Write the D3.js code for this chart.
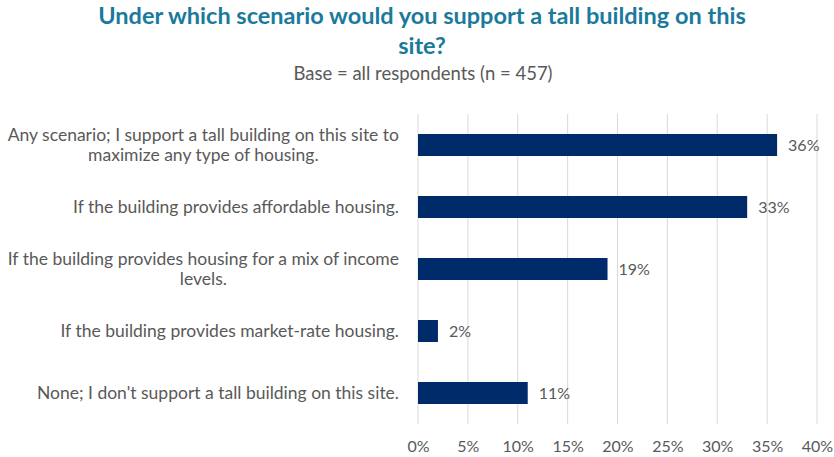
<!DOCTYPE html>
<html>
<head>
<meta charset="utf-8">
<script src="https://cdn.jsdelivr.net/npm/d3@7"></script>
<style>
  html, body { margin: 0; padding: 0; background: #fff; }
  svg { display: block; }
</style>
</head>
<body>
<svg id="chart" width="834" height="457"></svg>
<script>
// Survey answers, one bar each
const categories = [
  ["Any scenario; I support a tall building on this site to", "maximize any type of housing."],
  ["If the building provides affordable housing."],
  ["If the building provides housing for a mix of income", "levels."],
  ["If the building provides market-rate housing."],
  ["None; I don't support a tall building on this site."]
];
const shares = [36, 33, 19, 2, 11];
const tickValues = [0, 5, 10, 15, 20, 25, 30, 35, 40];

const titleLines = ["Under which scenario would you support a tall building on this", "site?"];
const subtitle = "Base = all respondents (n = 457)";

const W = 834, H = 457;
const margin = { left: 418, right: 17, top: 114, bottom: 33 };
const font = "Lato, 'Open Sans', sans-serif";

const svg = d3.select("#chart");

const x = d3.scaleLinear().domain([0, 40]).range([margin.left, W - margin.right]);
const y = d3.scaleBand()
  .domain(d3.range(categories.length))
  .range([margin.top, H - margin.bottom])
  .paddingInner(0.645)
  .paddingOuter(0.3225);

// Title and subtitle
svg.append("g").selectAll("text")
  .data(titleLines)
  .join("text")
  .attr("x", 422)
  .attr("y", (d, i) => 24 + i * 30)
  .attr("text-anchor", "middle")
  .attr("font-family", font)
  .attr("font-weight", "bold")
  .attr("font-size", 23.5)
  .attr("fill", "#1A7A9C")
  .text(d => d);

svg.append("text")
  .attr("x", 423)
  .attr("y", 80)
  .attr("text-anchor", "middle")
  .attr("font-family", font)
  .attr("font-size", 18.5)
  .attr("fill", "#595959")
  .text(subtitle);

// Vertical gridlines
svg.append("g").selectAll("line")
  .data(tickValues)
  .join("line")
  .attr("x1", d => x(d)).attr("x2", d => x(d))
  .attr("y1", margin.top).attr("y2", H - margin.bottom)
  .attr("stroke", "#D9D9D9")
  .attr("stroke-width", 1);

// X axis tick labels
const xAxis = d3.axisBottom(x).tickValues(tickValues).tickSize(0).tickFormat(d => d + "%");
const gx = svg.append("g")
  .attr("transform", `translate(0,${H - margin.bottom})`)
  .call(xAxis);
gx.select(".domain").remove();
gx.selectAll("text")
  .attr("dy", 0)
  .attr("y", 28)
  .attr("font-family", font)
  .attr("font-size", 16)
  .attr("fill", "#595959");

// Bars
svg.append("g").selectAll("rect")
  .data(shares)
  .join("rect")
  .attr("x", x(0))
  .attr("y", (d, i) => y(i))
  .attr("width", d => x(d) - x(0))
  .attr("height", y.bandwidth())
  .attr("fill", "#002B6B");

// Value labels
svg.append("g").selectAll("text")
  .data(shares)
  .join("text")
  .attr("x", d => x(d) + 11)
  .attr("y", (d, i) => y(i) + y.bandwidth() / 2)
  .attr("dy", "0.35em")
  .attr("font-family", font)
  .attr("font-size", 16)
  .attr("fill", "#595959")
  .text(d => d + "%");

// Category labels: right-aligned, wrapped lines centred under the first line
const labelRight = 399;
const lineH = 20;
const labelSize = 17.5;
categories.forEach((lines, i) => {
  const cy = y(i) + y.bandwidth() / 2;
  const top = cy - (lines.length - 1) * lineH / 2;
  const g = svg.append("g");
  const first = g.append("text")
    .attr("x", labelRight)
    .attr("y", top)
    .attr("dy", "0.35em")
    .attr("text-anchor", "end")
    .attr("font-family", font)
    .attr("font-size", labelSize)
    .attr("fill", "#595959")
    .text(lines[0]);
  if (lines.length > 1) {
    const w = first.node().getComputedTextLength();
    const centre = labelRight - w / 2;
    lines.slice(1).forEach((ln, j) => {
      g.append("text")
        .attr("x", centre)
        .attr("y", top + (j + 1) * lineH)
        .attr("dy", "0.35em")
        .attr("text-anchor", "middle")
        .attr("font-family", font)
        .attr("font-size", labelSize)
        .attr("fill", "#595959")
        .text(ln);
    });
  }
});
</script>
</body>
</html>
